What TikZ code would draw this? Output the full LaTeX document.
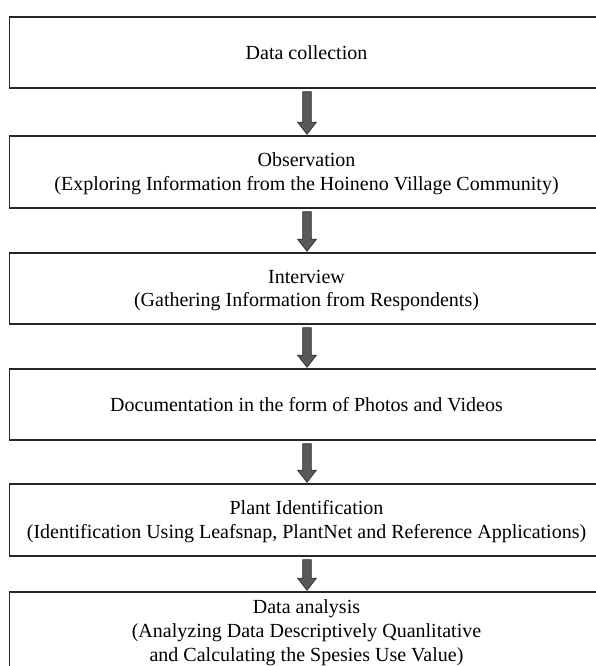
\documentclass[tikz,border=0pt]{standalone}
\usepackage{fontspec}
\setmainfont{Liberation Serif}
\usetikzlibrary{calc}
\newcommand\mystrut{\rule[-5pt]{0pt}{23.5pt}}
\newcommand\flowarr[2]{%
  \filldraw[arrowfill] let \p1=($(#1.south)+(0.5pt,-3pt)$), \p2=($(#2.north)+(0.5pt,1pt)$) in
    (\x1-4.3pt,\y1) -- (\x1-4.3pt,\y2+12pt) -- (\x1-9.3pt,\y2+12pt) -- (\x1,\y2)
    -- (\x1+9.3pt,\y2+12pt) -- (\x1+4.3pt,\y2+12pt) -- (\x1+4.3pt,\y1) -- cycle;}
\begin{document}
\begin{tikzpicture}[x=1pt,y=1pt,
  flowbox/.style={draw=black!85, line width=1.5pt, rectangle, inner sep=0pt,
    minimum width=594pt, align=center,
    font=\fontsize{20}{23.5}\selectfont},
  arrowfill/.style={fill=black!65, draw=black!80, line width=0.8pt, line join=miter}]
\useasboundingbox (0,0) rectangle (596,666);
\fill[white] (0,0) rectangle (596,666);
\node[flowbox, minimum height=71pt] (b1) at (306.5,613.5) {\mystrut Data collection};
\node[flowbox, minimum height=72pt] (b2) at (306.5,494) {\mystrut Observation\\\mystrut(Exploring Information from the Hoineno Village Community)};
\node[flowbox, minimum height=71pt] (b3) at (306.5,377.5) {\mystrut Interview\\\mystrut(Gathering Information from Respondents)};
\node[flowbox, minimum height=71pt] (b4) at (306.5,261.5) {\mystrut Documentation in the form of Photos and Videos};
\node[flowbox, minimum height=72pt] (b5) at (306.5,146) {\mystrut Plant Identification\\\mystrut(Identification Using Leafsnap, PlantNet and Reference Applications)};
\node[flowbox, minimum height=77.5pt] (b6) at (306.5,35.25) {\mystrut Data analysis\\\mystrut(Analyzing Data Descriptively Quanlitative\\\mystrut and Calculating the Spesies Use Value)};
\flowarr{b1}{b2}
\flowarr{b2}{b3}
\flowarr{b3}{b4}
\flowarr{b4}{b5}
\flowarr{b5}{b6}
\end{tikzpicture}
\end{document}
